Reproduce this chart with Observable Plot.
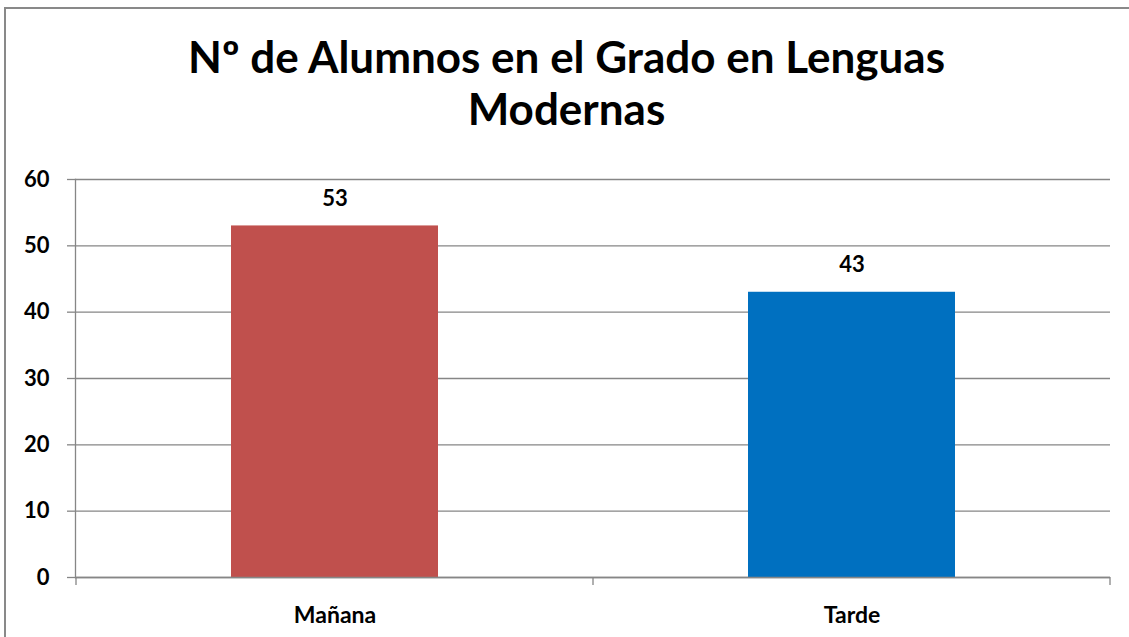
<!DOCTYPE html>
<html>
<head>
<meta charset="utf-8">
<script src="https://cdn.jsdelivr.net/npm/d3@7"></script>
<script src="https://cdn.jsdelivr.net/npm/@observablehq/plot@0.6"></script>
<style>
  html, body { margin: 0; padding: 0; background: #fff; overflow: hidden; }
  #wrap { position: relative; width: 1129px; height: 637px; overflow: hidden; font-family: Lato, "Open Sans", sans-serif; }
  .edge { position: absolute; background: #898989; }
  #edgeTop { left: 4px; top: 7px; width: 1125px; height: 2px; }
  #edgeLeft { left: 4px; top: 7px; width: 2px; height: 630px; }
  #title { position: relative; height: 150px; box-sizing: border-box; padding-top: 30px; text-align: center; font-weight: 700; font-size: 44px; line-height: 52px; color: #000; padding-left: 4px; }
  #chart { position: relative; }
  #chart svg { display: block; }
</style>
</head>
<body>
<div id="wrap">
  <div class="edge" id="edgeTop"></div>
  <div class="edge" id="edgeLeft"></div>
  <div id="title">Nº de Alumnos en el Grado en Lenguas<br>Modernas</div>
  <div id="chart"></div>
</div>
<script>
const categories = ["Mañana", "Tarde"];
const values = [53, 43];
const colors = ["#C0504D", "#0070C0"];
const yTicks = [0, 10, 20, 30, 40, 50, 60];

const data = categories.map((c, i) => ({category: c, value: values[i], color: colors[i]}));

const plot = Plot.plot({
  width: 1129,
  height: 487,
  marginTop: 29,
  marginBottom: 60,
  marginLeft: 75,
  marginRight: 19,
  style: {fontFamily: "Lato, 'Open Sans', sans-serif", fontWeight: "700", fontSize: "22px", color: "#000", background: "transparent"},
  x: {domain: categories, paddingInner: 0.6, paddingOuter: 0.3, label: null},
  y: {domain: [0, 60], label: null},
  marks: [
    Plot.gridY(yTicks, {stroke: "#868686", strokeOpacity: 1, strokeWidth: 1.3}),
    Plot.barY(data, {x: "category", y: "value", fill: "color"}),
    Plot.ruleY([0], {stroke: "#868686", strokeWidth: 1.3}),
    Plot.frame({anchor: "left", stroke: "#868686", strokeWidth: 1.3}),
    Plot.axisY(yTicks, {tickSize: 8, tickPadding: 18, stroke: "#868686", strokeWidth: 1.3, fontSize: 22, fontWeight: 700, fill: "#000"}),
    Plot.axisX({tickSize: 0, tickPadding: 29, fontSize: 23, fontWeight: 700, fill: "#000"}),
    Plot.text(data, {x: "category", y: "value", text: d => String(d.value), dy: -27, fontSize: 22, fontWeight: 700, fill: "#000"})
  ]
});

// category boundary tick marks below the x axis, placed via the band scale
const xs = plot.scale("x");
const ys = plot.scale("y");
const y0 = ys.apply(0);
const bounds = categories.map(c => xs.apply(c) + xs.bandwidth / 2 - xs.step / 2);
bounds.push(xs.apply(categories[categories.length - 1]) + xs.bandwidth / 2 + xs.step / 2);
d3.select(plot).append("g")
  .selectAll("line").data(bounds).join("line")
  .attr("x1", d => d).attr("x2", d => d)
  .attr("y1", y0).attr("y2", y0 + 8)
  .attr("stroke", "#868686").attr("stroke-width", 1.3);

document.getElementById("chart").appendChild(plot);
</script>
</body>
</html>
